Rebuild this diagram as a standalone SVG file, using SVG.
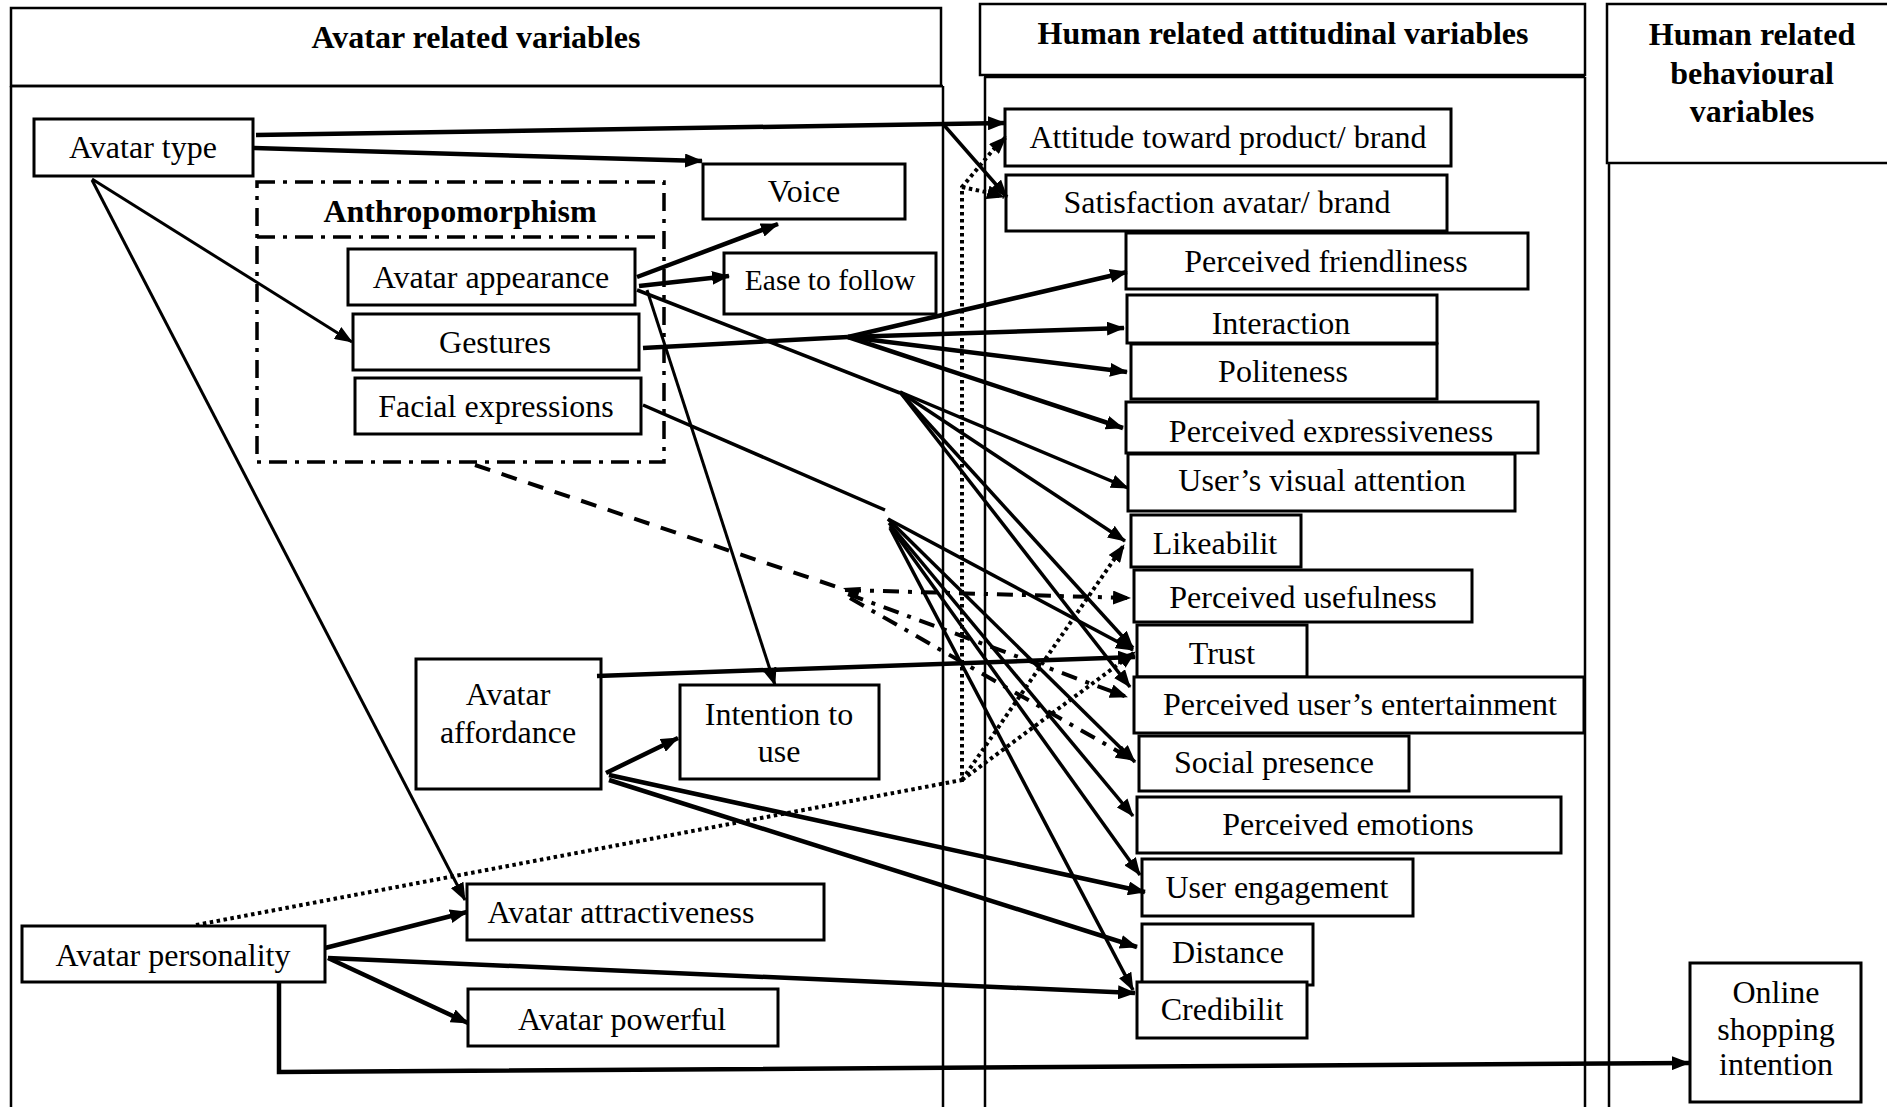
<svg xmlns="http://www.w3.org/2000/svg" width="1887" height="1107" viewBox="0 0 1887 1107">
<style>
.panel{fill:none;stroke:#000;stroke-width:2.5}
.box{fill:#fff;stroke:#000;stroke-width:3}
.t{font-family:'Liberation Serif','Times New Roman',serif;font-size:32px;text-anchor:middle;fill:#000}
.b{font-weight:bold}
.c{fill:none;stroke:#000;stroke-width:3.5}
.w{stroke-width:4.5}
.n{stroke-width:3}
.dot{stroke-dasharray:3.5 3.5;stroke-width:4}
.dash{stroke-dasharray:16 12;stroke-width:4}
.dd{stroke-dasharray:16 9 4 9;stroke-width:4}
.anth{fill:none;stroke:#000;stroke-width:3.5;stroke-dasharray:18 8 4 8}
</style>
<defs>
<marker id="a" markerWidth="18" markerHeight="14" refX="17" refY="7" orient="auto" markerUnits="userSpaceOnUse"><path d="M0,0 L18,7 L0,14 z" fill="#000"/></marker>
<clipPath id="clipExp"><rect x="1126" y="402" width="412" height="41"/></clipPath>
</defs>
<rect width="1887" height="1107" fill="#fff"/>

<g id="panels">
<rect class="panel" x="11" y="8" width="930" height="78"/>
<path class="panel" d="M11,86 V1110 M943,86 V1110"/>
<path class="panel" d="M11,86 H943" stroke-width="3.5"/>
<text class="t b" x="476" y="48">Avatar related variables</text>
<rect class="panel" x="980" y="4" width="605" height="71"/>
<path class="panel" d="M985,77 V1110 M1585,77 V1110"/>
<path class="panel" d="M984,77 H1585" stroke-width="4"/>
<text class="t b" x="1283" y="44">Human related attitudinal variables</text>
<path class="panel" d="M1890,4 H1607 V163 H1890"/>
<path class="panel" d="M1609,163 V1110"/>
<text class="t b" x="1752" y="45">Human related</text>
<text class="t b" x="1752" y="84">behavioural</text>
<text class="t b" x="1752" y="122">variables</text>
</g>

<g id="anthropomorphism">
<rect class="anth" x="257" y="182" width="407" height="280"/>
<path class="anth" d="M257,237 H664"/>
<text class="t b" x="460" y="222">Anthropomorphism</text>
</g>

<g id="n-avatar-type"><rect class="box" x="34" y="119" width="219" height="57"/><text class="t" x="143" y="158">Avatar type</text></g>
<g id="n-voice"><rect class="box" x="703" y="164" width="202" height="55"/><text class="t" x="804" y="202">Voice</text></g>
<g id="n-avatar-appearance"><rect class="box" x="348" y="249" width="287" height="56"/><text class="t" x="491" y="288">Avatar appearance</text></g>
<g id="n-ease"><rect class="box" x="724" y="253" width="212" height="61"/><text class="t" x="830" y="290" style="font-size:29.5px">Ease to follow</text></g>
<g id="n-gestures"><rect class="box" x="353" y="314" width="286" height="56"/><text class="t" x="495" y="353">Gestures</text></g>
<g id="n-facial"><rect class="box" x="355" y="378" width="286" height="56"/><text class="t" x="496" y="417">Facial expressions</text></g>
<g id="n-affordance"><rect class="box" x="416" y="659" width="185" height="130"/><text class="t" x="508" y="705">Avatar</text><text class="t" x="508" y="743">affordance</text></g>
<g id="n-intention"><rect class="box" x="680" y="685" width="199" height="94"/><text class="t" x="779" y="725">Intention to</text><text class="t" x="779" y="762">use</text></g>
<g id="n-attractiveness"><rect class="box" x="467" y="884" width="357" height="56"/><text class="t" x="621" y="923">Avatar attractiveness</text></g>
<g id="n-personality"><rect class="box" x="22" y="926" width="303" height="56"/><text class="t" x="173" y="966">Avatar personality</text></g>
<g id="n-powerful"><rect class="box" x="468" y="989" width="310" height="57"/><text class="t" x="622" y="1030">Avatar powerful</text></g>

<g id="n-attitude"><rect class="box" x="1005" y="109" width="446" height="57"/><text class="t" x="1228" y="148">Attitude toward product/ brand</text></g>
<g id="n-satisfaction"><rect class="box" x="1006" y="175" width="441" height="56"/><text class="t" x="1227" y="213">Satisfaction avatar/ brand</text></g>
<g id="n-friendliness"><rect class="box" x="1126" y="233" width="402" height="56"/><text class="t" x="1326" y="272">Perceived friendliness</text></g>
<g id="n-interaction"><rect class="box" x="1127" y="295" width="310" height="48"/><text class="t" x="1281" y="334">Interaction</text></g>
<g id="n-politeness"><rect class="box" x="1131" y="344" width="306" height="55"/><text class="t" x="1283" y="382">Politeness</text></g>
<g id="n-expressiveness"><rect class="box" x="1126" y="402" width="412" height="51"/><text class="t" x="1331" y="442" clip-path="url(#clipExp)">Perceived expressiveness</text></g>
<g id="n-visual"><rect class="box" x="1128" y="454" width="387" height="57"/><text class="t" x="1322" y="491">User’s visual attention</text></g>
<g id="n-likeability"><rect class="box" x="1131" y="515" width="170" height="52"/><text class="t" x="1215" y="554">Likeabilit</text></g>
<g id="n-usefulness"><rect class="box" x="1134" y="570" width="338" height="52"/><text class="t" x="1303" y="608">Perceived usefulness</text></g>
<g id="n-trust"><rect class="box" x="1137" y="625" width="170" height="52"/><text class="t" x="1222" y="664">Trust</text></g>
<g id="n-entertainment"><rect class="box" x="1134" y="677" width="450" height="56"/><text class="t" x="1360" y="715">Perceived user’s entertainment</text></g>
<g id="n-social"><rect class="box" x="1139" y="736" width="270" height="55"/><text class="t" x="1274" y="773">Social presence</text></g>
<g id="n-emotions"><rect class="box" x="1137" y="797" width="424" height="56"/><text class="t" x="1348" y="835">Perceived emotions</text></g>
<g id="n-engagement"><rect class="box" x="1142" y="859" width="271" height="57"/><text class="t" x="1277" y="898">User engagement</text></g>
<g id="n-distance"><rect class="box" x="1142" y="924" width="171" height="61"/><text class="t" x="1228" y="963">Distance</text></g>
<g id="n-credibility"><rect class="box" x="1137" y="982" width="170" height="56"/><text class="t" x="1222" y="1020">Credibilit</text></g>
<g id="n-online"><rect class="box" x="1690" y="963" width="171" height="139"/><text class="t" x="1776" y="1003">Online</text><text class="t" x="1776" y="1040">shopping</text><text class="t" x="1776" y="1075">intention</text></g>

<g id="connectors">
<path class="c w" d="M256,135 L1005,123" marker-end="url(#a)"/>
<path class="c" d="M943,124 L1007,197" marker-end="url(#a)"/>
<path class="c w" d="M253,148 L702,161" marker-end="url(#a)"/>
<path class="c n" d="M92,179 L352,342" marker-end="url(#a)"/>
<path class="c n" d="M92,180 L465,900" marker-end="url(#a)"/>
<path class="c w" d="M637,277 L778,224" marker-end="url(#a)"/>
<path class="c w" d="M639,286 L729,276" marker-end="url(#a)"/>
<path class="c" d="M637,290 L900,393"/>
<path class="c n" d="M647,290 L775,685" marker-end="url(#a)"/>
<path class="c w" d="M643,348 L848,337"/>
<path class="c w" d="M848,337 L1127,272" marker-end="url(#a)"/>
<path class="c w" d="M848,337 L1124,328" marker-end="url(#a)"/>
<path class="c w" d="M848,337 L1127,372" marker-end="url(#a)"/>
<path class="c w" d="M848,337 L1123,428" marker-end="url(#a)"/>
<path class="c" d="M643,405 L885,510"/>
<path class="c" d="M900,392 L1128,488" marker-end="url(#a)"/>
<path class="c" d="M900,392 L1125,541" marker-end="url(#a)"/>
<path class="c" d="M900,392 L1133,648" marker-end="url(#a)"/>
<path class="c" d="M900,392 L1130,687" marker-end="url(#a)"/>
<path class="c" d="M888,519 L1133,650" marker-end="url(#a)"/>
<path class="c" d="M888,519 L1135,762" marker-end="url(#a)"/>
<path class="c" d="M889,523 L1133,816" marker-end="url(#a)"/>
<path class="c" d="M890,526 L1140,875" marker-end="url(#a)"/>
<path class="c" d="M890,528 L1133,990" marker-end="url(#a)"/>
<path class="c w" d="M597,676 L1135,657" marker-end="url(#a)"/>
<path class="c w" d="M606,773 L678,738" marker-end="url(#a)"/>
<path class="c w" d="M609,775 L1145,892" marker-end="url(#a)"/>
<path class="c w" d="M609,780 L1137,947" marker-end="url(#a)"/>
<path class="c w" d="M325,948 L467,912" marker-end="url(#a)"/>
<path class="c w" d="M328,958 L468,1023" marker-end="url(#a)"/>
<path class="c w" d="M328,958 L1135,993" marker-end="url(#a)"/>
<path class="c w" d="M279,982 V1072 L1689,1063" marker-end="url(#a)"/>
<path class="c dash" d="M475,465 L840,588"/>
<path d="M843,588 L861,587 L857,599 z" fill="#000"/>
<path class="c dd" d="M845,590 L1130,598" marker-end="url(#a)"/>
<path class="c dd" d="M848,594 L1127,697" marker-end="url(#a)"/>
<path class="c dd" d="M850,598 L1133,760" marker-end="url(#a)"/>
<path class="c dot" d="M196,925 L962,780 V187 L993,150 L1006,137" marker-end="url(#a)"/>
<path class="c dot" d="M962,187 L990,193 L1004,197" marker-end="url(#a)"/>
<path class="c dot" d="M962,780 L1124,545" marker-end="url(#a)"/>
<path class="c dot" d="M962,780 L1135,652" marker-end="url(#a)"/>
</g>
</svg>
